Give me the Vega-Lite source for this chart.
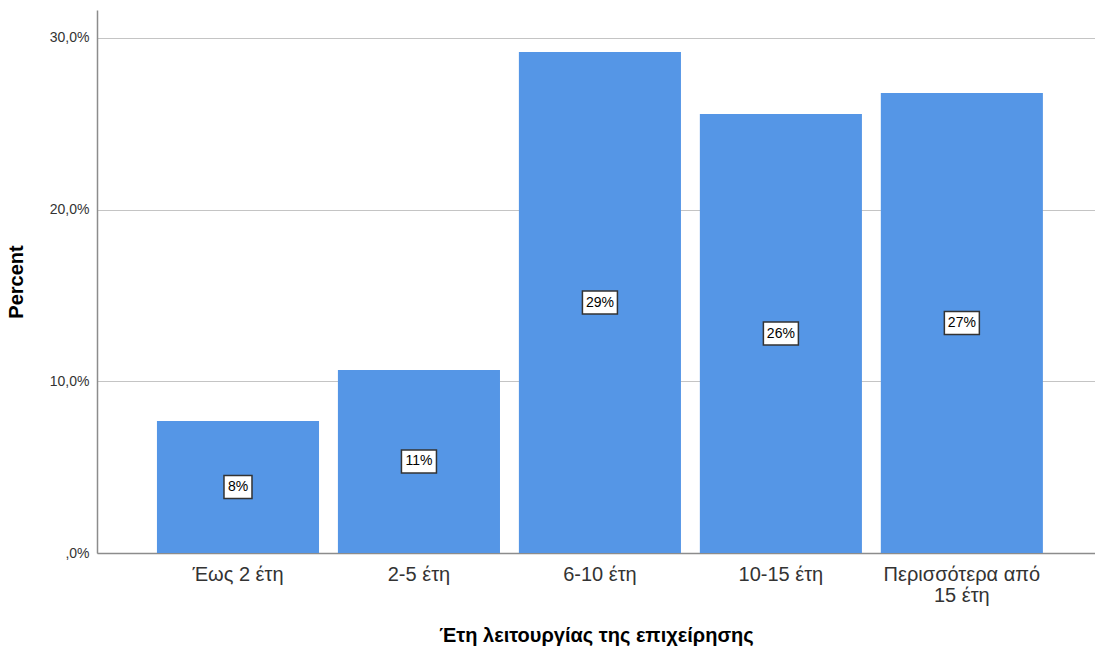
{
  "$schema": "https://vega.github.io/schema/vega-lite/v6.json",
  "width": 998,
  "height": 543,
  "autosize": "none",
  "padding": {"left": 97, "top": 10, "right": 0, "bottom": 99},
  "background": "white",
  "config": {
    "font": "Liberation Sans",
    "view": {"stroke": null}
  },
  "data": {
    "values": [
      {"cat": "Έως 2 έτη", "pct": 7.69, "label": "8%"},
      {"cat": "2-5 έτη", "pct": 10.66, "label": "11%"},
      {"cat": "6-10 έτη", "pct": 29.18, "label": "29%"},
      {"cat": "10-15 έτη", "pct": 25.57, "label": "26%"},
      {"cat": "Περισσότερα από 15 έτη", "pct": 26.79, "label": "27%"}
    ]
  },
  "encoding": {
    "x": {
      "field": "cat",
      "type": "nominal",
      "sort": null,
      "scale": {"paddingInner": 0.1044, "paddingOuter": 0.3096, "align": 0.535},
      "axis": {
        "title": "Έτη λειτουργίας της επιχείρησης",
        "titleFont": "Liberation Sans",
        "titleFontSize": 20,
        "titleFontWeight": "bold",
        "titleColor": "#000000",
        "titlePadding": 20,
        "labelAngle": 0,
        "labelFontSize": 20,
        "labelColor": "#333333",
        "labelPadding": 11,
        "labelLineHeight": 21,
        "labelExpr": "datum.label == 'Περισσότερα από 15 έτη' ? ['Περισσότερα από', '15 έτη'] : datum.label",
        "ticks": false,
        "domainColor": "#8c8c8c",
        "domainWidth": 1.5,
        "grid": false
      }
    }
  },
  "layer": [
    {
      "mark": {"type": "bar", "color": "#5596e6"},
      "encoding": {
        "y": {
          "field": "pct",
          "type": "quantitative",
          "scale": {"domain": [0, 31.63], "nice": false},
          "axis": {
            "title": "Percent",
            "titleFontSize": 20,
            "titleFontWeight": "bold",
            "titleColor": "#000000",
            "titlePadding": 23,
            "values": [0, 10, 20, 30],
            "labelExpr": "datum.value == 0 ? ',0%' : replace(format(datum.value, '.1f'), '.', ',') + '%'",
            "labelFontSize": 14,
            "labelColor": "#333333",
            "labelPadding": 8,
            "ticks": false,
            "domainColor": "#8c8c8c",
            "domainWidth": 1.5,
            "gridColor": "#c4c4c4",
            "gridWidth": 1.2
          }
        }
      }
    },
    {
      "mark": {"type": "point", "filled": true, "fill": "white", "stroke": "#333333", "strokeWidth": 1.5, "opacity": 1, "size": 1225},
      "encoding": {
        "y": {"field": "pct", "type": "quantitative", "scale": {"domain": [0, 63.26], "nice": false}, "axis": null},
        "shape": {
          "condition": {"test": "datum.pct < 10", "value": "M-0.8,-0.657H0.8V0.657H-0.8Z"},
          "value": "M-1,-0.657H1V0.657H-1Z"
        }
      }
    },
    {
      "mark": {"type": "text", "fontSize": 14, "color": "#000000", "baseline": "middle", "align": "center"},
      "encoding": {
        "y": {"field": "pct", "type": "quantitative", "scale": {"domain": [0, 63.26], "nice": false}, "axis": null},
        "text": {"field": "label"}
      }
    }
  ],
  "resolve": {"scale": {"y": "independent"}, "axis": {"y": "independent"}}
}
